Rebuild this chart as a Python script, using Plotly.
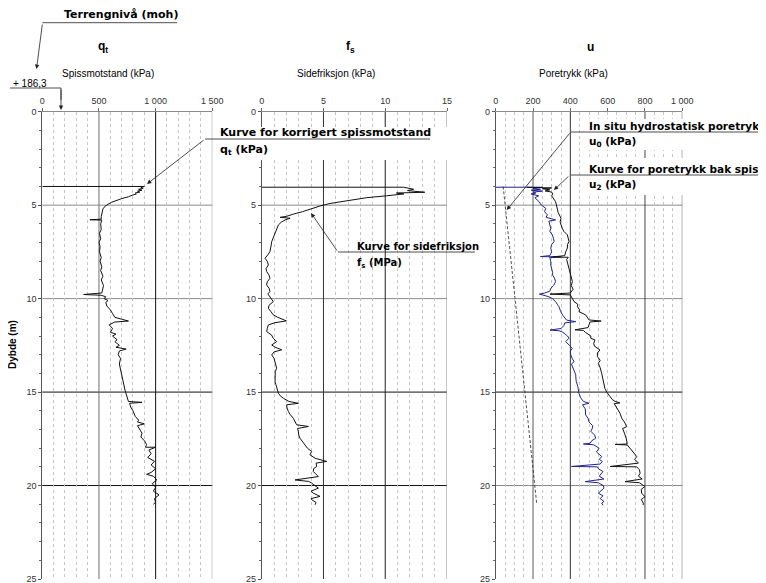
import plotly.graph_objects as go

# The page body adds an 8 px margin, so the figure is sized to fill the rest of the window
OFF = 8
W, H = 766 - OFF, 583 - OFF

# ---------------- data ----------------
# Panel 1: corrected cone resistance q_t (kPa) vs depth (m)
qt_depth = [4.00, 4.00, 4.05, 4.10, 4.15, 4.20, 4.25, 4.30, 4.35, 4.40, 4.45, 4.55, 4.65, 4.75, 4.85,
            4.95, 5.05, 5.20, 5.40, 5.60, 5.75, 5.78, 5.80, 6.00, 6.30, 6.50, 6.80, 7.00, 7.20, 7.50,
            7.80, 8.00, 8.30, 8.50, 8.80, 9.00, 9.30, 9.50, 9.70, 9.78, 9.82, 9.90, 10.00, 10.10, 10.20,
            10.40, 10.60, 10.80, 11.00, 11.10, 11.20, 11.25, 11.40, 11.60, 11.80, 11.90, 12.00, 12.20,
            12.30, 12.50, 12.60, 12.70, 12.80, 13.00, 13.20, 13.50, 13.80, 14.00, 14.30, 14.60, 14.90,
            15.10, 15.30, 15.50, 15.55, 15.60, 15.80, 16.00, 16.30, 16.50, 16.60, 16.70, 16.80, 17.00,
            17.20, 17.40, 17.60, 17.80, 17.95, 17.95, 18.10, 18.30, 18.50, 18.70, 18.90, 19.10, 19.30,
            19.40, 19.50, 19.70, 19.90, 20.10, 20.30, 20.50, 20.70, 20.90, 21.00]
qt_val = [0, 900, 870, 890, 850, 880, 840, 860, 820, 830, 800, 760, 700, 650, 610,
          580, 555, 535, 525, 520, 520, 420, 525, 515, 520, 505, 515, 500, 510, 505,
          520, 510, 525, 515, 535, 520, 540, 530, 525, 365, 520, 560, 545, 580, 560,
          570, 600, 620, 640, 700, 760, 640, 590, 620, 600, 650, 620, 660,
          640, 680, 650, 740, 680, 670, 690, 680, 690, 700, 710, 720, 730,
          740, 750, 760, 880, 770, 780, 800, 820, 850, 840, 900, 840, 860,
          880, 870, 900, 920, 910, 1000, 940, 960, 930, 990, 960, 1000, 960,
          920, 980, 1010, 970, 1000, 980, 1030, 990, 1000, 980]

# Panel 2: sleeve friction f_s (kPa) vs depth (m)
fs_depth = [4.04, 4.04, 4.15, 4.22, 4.31, 4.35, 4.40, 4.45, 4.50, 4.60, 4.73, 4.82, 4.91, 5.05, 5.20,
            5.35, 5.48, 5.60, 5.65, 5.70, 5.79, 5.90, 6.06, 6.30, 6.59, 6.80, 6.95, 7.20, 7.48, 7.65,
            7.84, 8.00, 8.20, 8.40, 8.55, 8.75, 8.91, 9.10, 9.27, 9.45, 9.62, 9.75, 9.89, 10.05, 10.16,
            10.35, 10.52, 10.70, 10.87, 11.00, 11.19, 11.30, 11.41, 11.60, 11.76, 11.95, 12.12, 12.30,
            12.48, 12.60, 12.74, 12.85, 13.01, 13.20, 13.37, 13.55, 13.72, 13.90, 14.08, 14.30, 14.44,
            14.60, 14.79, 15.06, 15.20, 15.33, 15.50, 15.60, 15.68, 15.85, 16.04, 16.20, 16.40, 16.60,
            16.75, 16.84, 16.95, 17.11, 17.30, 17.47, 17.65, 17.82, 18.00, 18.18, 18.35, 18.54, 18.71,
            18.80, 18.98, 19.10, 19.25, 19.40, 19.52, 19.70, 19.78, 19.87, 20.00, 20.14, 20.30, 20.41,
            20.58, 20.70, 20.76, 20.90, 21.03]
fs_val = [0, 11.5, 12.3, 11.8, 13.2, 10.9, 11.5, 10.5, 10.1, 8.5, 7.15, 6.3, 5.53, 4.7, 4.05,
          3.3, 2.56, 2.0, 1.5, 2.3, 1.9, 1.6, 1.35, 1.2, 1.08, 0.95, 0.81, 0.75, 0.67, 0.5,
          0.27, 0.45, 0.54, 0.35, 0.40, 0.60, 0.67, 0.45, 0.40, 0.60, 0.67, 0.50, 0.67, 0.80, 0.94,
          0.60, 0.54, 0.75, 0.94, 1.3, 2.0, 1.0, 0.54, 0.45, 0.40, 0.80, 0.94, 1.21,
          0.81, 1.1, 1.62, 1.0, 0.81, 1.0, 1.08, 1.15, 1.21, 1.1, 1.08, 1.1, 1.08,
          1.15, 1.21, 1.35, 1.5, 1.75, 2.2, 2.97, 2.02, 2.05, 2.16, 2.3, 2.56, 2.7,
          2.83, 3.78, 2.9, 2.97, 3.0, 3.10, 3.3, 3.51, 3.7, 4.05, 3.9, 4.32, 5.26,
          4.4, 4.45, 4.2, 4.18, 4.4, 4.59, 2.70, 3.8, 4.05, 4.3, 4.59, 4.0, 4.18,
          4.72, 4.0, 4.05, 4.4, 4.32]

# Panel 3: in situ hydrostatic pore pressure u0 (kPa)
u0_depth = [4.0, 21.0]
u0_val = [40, 220]

# Panel 3: blue pore pressure curve (kPa)
ub_depth = [4.04, 4.04, 4.10, 4.15, 4.20, 4.25, 4.30, 4.35, 4.40, 4.50, 4.60, 4.81, 5.00, 5.17, 5.35,
            5.52, 5.65, 5.79, 5.85, 6.00, 6.24, 6.40, 6.59, 6.80, 6.95, 7.10, 7.30, 7.50, 7.70, 7.75,
            7.77, 7.80, 8.00, 8.20, 8.40, 8.60, 8.73, 8.90, 9.09, 9.30, 9.45, 9.60, 9.71, 9.76, 9.80,
            9.90, 10.00, 10.16, 10.30, 10.43, 10.60, 10.69, 10.90, 11.05, 11.15, 11.23, 11.30, 11.45,
            11.60, 11.68, 11.72, 11.80, 12.00, 12.12, 12.30, 12.50, 12.66, 12.80, 13.00, 13.20, 13.37,
            13.50, 13.70, 14.08, 14.30, 14.44, 14.70, 15.06, 15.30, 15.50, 15.60, 15.68, 15.90, 16.22,
            16.40, 16.60, 16.80, 16.93, 17.10, 17.30, 17.47, 17.60, 17.74, 17.78, 17.82, 18.00, 18.20,
            18.45, 18.60, 18.71, 18.85, 18.98, 19.00, 19.10, 19.25, 19.34, 19.50, 19.65, 19.79, 19.85,
            20.00, 20.14, 20.30, 20.41, 20.55, 20.70, 20.85, 20.94, 21.05]
ub_val = [0, 250, 200, 240, 190, 250, 200, 215, 190, 230, 210, 232, 245, 268, 262,
          277, 270, 321, 285, 290, 295, 290, 304, 310, 313, 300, 295, 300, 290, 240,
          350, 290, 295, 295, 300, 305, 304, 315, 321, 310, 295, 290, 260, 234, 250,
          285, 304, 321, 330, 339, 345, 348, 360, 375, 380, 429, 370, 365,
          350, 291, 340, 360, 385, 393, 375, 395, 411, 400, 402, 410, 420,
          406, 415, 429, 430, 432, 440, 446, 455, 470, 500, 465, 480, 482,
          495, 500, 520, 518, 510, 530, 536, 515, 506, 470, 525, 554, 540,
          568, 555, 571, 560, 406, 545, 550, 575, 568, 555, 580, 480, 550,
          577, 580, 560, 550, 575, 560, 580, 568, 575]

# Panel 3: pore pressure behind the cone u2 (kPa)
u2_depth = [4.04, 4.04, 4.08, 4.12, 4.18, 4.24, 4.30, 4.40, 4.50, 4.81, 5.00, 5.17, 5.40, 5.70, 5.90,
            6.24, 6.40, 6.59, 6.80, 6.95, 7.10, 7.30, 7.50, 7.70, 7.77, 7.79, 7.90, 8.10, 8.38, 8.60,
            8.90, 9.09, 9.30, 9.50, 9.70, 9.76, 9.80, 9.98, 10.16, 10.30, 10.43, 10.60, 10.69, 10.87,
            11.00, 11.14, 11.20, 11.25, 11.40, 11.55, 11.67, 11.70, 11.80, 12.00, 12.12, 12.21, 12.40,
            12.55, 12.75, 12.90, 13.10, 13.30, 13.46, 13.70, 14.00, 14.30, 14.60, 14.80, 15.00, 15.20,
            15.40, 15.50, 15.58, 15.62, 15.80, 16.13, 16.40, 16.60, 16.85, 16.95, 17.20, 17.50, 17.78,
            17.80, 17.83, 18.00, 18.20, 18.45, 18.60, 18.80, 18.98, 19.00, 19.15, 19.34, 19.50, 19.65,
            19.79, 19.85, 20.05, 20.20, 20.41, 20.60, 20.75, 20.94, 21.05]
u2_val = [166, 255, 300, 250, 290, 265, 300, 305, 300, 321, 325, 330, 335, 350, 345,
          357, 365, 384, 390, 393, 385, 384, 375, 370, 305, 389, 380, 385, 393, 400,
          405, 411, 405, 415, 400, 291, 400, 411, 420, 440, 438, 450, 446, 482,
          490, 500, 565, 505, 500, 495, 425, 470, 480, 510, 509, 532, 525,
          530, 559, 545, 545, 560, 550, 560, 568, 575, 580, 585, 595, 610,
          625, 640, 666, 635, 645, 666, 675, 690, 702, 680, 690, 700, 705,
          640, 705, 720, 735, 756, 745, 765, 614, 755, 770, 774, 765, 785,
          693, 770, 800, 780, 782, 800, 780, 791, 790]

qt_ticks = [0, 500, 1000, 1500]
qt_ticktext = ["0", "500", "1 000", "1 500"]
fs_ticks = [0, 5, 10, 15]
fs_ticktext = ["0", "5", "10", "15"]
u_ticks = [0, 200, 400, 600, 800, 1000]
u_ticktext = ["0", "200", "400", "600", "800", "1 000"]
depth_ticks = [0, 5, 10, 15, 20, 25]

# ---------------- helpers (screen pixel -> paper fraction) ----------------
def xp(p):
    return (p - OFF) / W

def yp(p):
    return 1 - (p - OFF) / H

TICKFONT = dict(family="Liberation Sans, Arial, sans-serif", size=9, color="#333333")
BOLD = "DejaVu Sans, sans-serif"
REG = "Liberation Sans, Arial, sans-serif"

# solid (heavy) vertical grid lines per panel: value -> colour
qt_solid = {500: "#6e6e6e", 1000: "#111111", 1500: "#8a8a8a"}
fs_solid = {5: "#333333", 10: "#222222", 15: "#8a8a8a"}
u_solid = {200: "#5a5a5a", 400: "#333333", 800: "#444444", 1000: "#555555"}

fig = go.Figure()

fig.add_trace(go.Scatter(x=qt_val, y=qt_depth, xaxis="x", yaxis="y", mode="lines",
                         line=dict(color="#111111", width=1)))
fig.add_trace(go.Scatter(x=fs_val, y=fs_depth, xaxis="x2", yaxis="y2", mode="lines",
                         line=dict(color="#111111", width=1)))
fig.add_trace(go.Scatter(x=u0_val, y=u0_depth, xaxis="x3", yaxis="y3", mode="lines",
                         line=dict(color="#222222", width=0.8, dash="3px,2px")))
fig.add_trace(go.Scatter(x=ub_val, y=ub_depth, xaxis="x3", yaxis="y3", mode="lines",
                         line=dict(color="#23238f", width=1)))
fig.add_trace(go.Scatter(x=u2_val, y=u2_depth, xaxis="x3", yaxis="y3", mode="lines",
                         line=dict(color="#111111", width=1)))

ydom = [yp(579), yp(111.7)]

def xax(domain, rng, tickvals, ticktext, minor_step, solid):
    n = int(round(rng[1] / minor_step))
    minor_vals = [i * minor_step for i in range(1, n) if not any(abs(i * minor_step - s) < 1e-9 for s in solid)]
    return dict(domain=domain, range=rng, side="top", tickmode="array", tickvals=tickvals,
                ticktext=ticktext, ticks="outside", ticklen=3, tickcolor="#666666",
                showline=True, linecolor="#8a8a8a", linewidth=1, showgrid=False, zeroline=False,
                tickfont=TICKFONT, fixedrange=True, automargin=False, ticklabeloverflow="allow",
                minor=dict(tickmode="array", tickvals=minor_vals, showgrid=True,
                           gridcolor="#c4c4c4", griddash="dot", gridwidth=1, ticks=""))

def yax(anchor):
    return dict(domain=ydom, range=[25, 0], anchor=anchor, tickmode="array", tickvals=depth_ticks,
                ticks="outside", ticklen=3, tickcolor="#555555", showline=True, linecolor="#555555",
                linewidth=1, showgrid=False, zeroline=False, tickfont=TICKFONT, fixedrange=True,
                automargin=False, ticklabeloverflow="allow",
                minor=dict(tickmode="linear", tick0=0, dtick=1, ticks="outside", ticklen=2,
                           tickcolor="#666666", showgrid=False))

fig.update_layout(
    width=W, height=H, margin=dict(l=0, r=0, t=0, b=0, pad=0, autoexpand=False),
    paper_bgcolor="white", plot_bgcolor="white", showlegend=False,
    xaxis=xax([xp(42.3), xp(212.3)], [0, 1500], qt_ticks, qt_ticktext, 100, qt_solid) | dict(anchor="y"),
    xaxis2=xax([xp(261.7), xp(447)], [0, 15], fs_ticks, fs_ticktext, 1, fs_solid) | dict(anchor="y2"),
    xaxis3=xax([xp(495.7), xp(682.3)], [0, 1000], u_ticks, u_ticktext, 50, u_solid) | dict(anchor="y3"),
    yaxis=yax("x"), yaxis2=yax("x2"), yaxis3=yax("x3"),
)

shapes = []

def vline(xref, yref, x, color):
    shapes.append(dict(type="line", xref=xref, yref=yref, x0=x, x1=x, y0=0, y1=25,
                       line=dict(color=color, width=1), layer="below"))

def hline(xref, yref, y, color):
    shapes.append(dict(type="line", xref=xref + " domain", yref=yref, x0=0, x1=1, y0=y, y1=y,
                       line=dict(color=color, width=1), layer="below"))

for xr, yr, solid in [("x", "y", qt_solid), ("x2", "y2", fs_solid), ("x3", "y3", u_solid)]:
    for v, c in solid.items():
        vline(xr, yr, v, c)
for yv, c in [(5, "#8a8a8a"), (10, "#8a8a8a"), (15, "#111111"), (20, "#111111")]:
    hline("x", "y", yv, c)
    hline("x2", "y2", yv, c)
for yv, c in [(5, "#8a8a8a"), (10, "#8a8a8a"), (15, "#111111"), (20, "#8a8a8a")]:
    hline("x3", "y3", yv, c)

# white masks behind the callout texts
for x0, x1, y0, y1 in [(213, 452, 127, 160), (585, 766, 119, 150), (585, 766, 158, 195)]:
    shapes.append(dict(type="rect", xref="paper", yref="paper", x0=xp(x0), x1=xp(x1),
                       y0=yp(y1), y1=yp(y0), fillcolor="white", line=dict(width=0), layer="above"))

# leader underlines
for x0, x1, yy in [(42.3, 177, 22.7), (10, 61, 88), (205, 430, 139), (338, 475, 252),
                   (571, 766, 132), (571, 766, 175)]:
    shapes.append(dict(type="line", xref="paper", yref="paper", x0=xp(x0), x1=xp(x1),
                       y0=yp(yy), y1=yp(yy), line=dict(color="#222222", width=0.8), layer="above"))
shapes.append(dict(type="line", xref="paper", yref="paper", x0=xp(61), x1=xp(61),
                   y0=yp(88), y1=yp(100), line=dict(color="#222222", width=0.8), layer="above"))

fig.update_layout(shapes=shapes)

ann = []

def text(x, y, s, size=11, family=BOLD, anchor="left", color="#000000"):
    ann.append(dict(xref="paper", yref="paper", x=xp(x), y=yp(y), text=s, showarrow=False,
                    xanchor=anchor, yanchor="middle", font=dict(family=family, size=size, color=color)))

def arrow(xref, yref, x, y, ax, ay):
    ann.append(dict(xref=xref, yref=yref, x=x, y=y, ax=ax, ay=ay, text="", showarrow=True,
                    arrowhead=2, arrowsize=1.1, arrowwidth=0.8, arrowcolor="#222222", standoff=0))

text(62, 15, "<b>Terrengnivå (moh)</b>", size=11)
text(11, 83, "+ 186,3", size=10, family=REG)
text(103, 47, "<b>q<sub>t</sub></b>", size=12, family=REG, anchor="center")
text(108, 74, "Spissmotstand (kPa)", size=10, family=REG, anchor="center")
text(350, 47, "<b>f<sub>s</sub></b>", size=12, family=REG, anchor="center")
text(336, 74, "Sidefriksjon (kPa)", size=10, family=REG, anchor="center")
text(590, 47, "<b>u</b>", size=12, family=REG, anchor="center")
text(573, 74, "Poretrykk (kPa)", size=10, family=REG, anchor="center")

text(218, 133, "<b>Kurve for korrigert spissmotstand</b>")
text(218, 150, "<b>q<sub>t</sub> (kPa)</b>")
text(355, 246, "<b>Kurve for sidefriksjon</b>", size=10)
text(355, 263, "<b>f<sub>s</sub> (MPa)</b>", size=10)
text(587, 126, "<b>In situ hydrostatisk poretrykk</b>", size=10.5)
text(587, 142, "<b>u<sub>0</sub> (kPa)</b>", size=10.5)
text(587, 169, "<b>Kurve for poretrykk bak spiss</b>", size=10.5)
text(587, 185, "<b>u<sub>2</sub> (kPa)</b>", size=10.5)

ann.append(dict(xref="paper", yref="paper", x=xp(12), y=yp(345), text="<b>Dybde (m)</b>",
                showarrow=False, textangle=-90, xanchor="center", yanchor="middle",
                font=dict(family=REG, size=10, color="#000000")))

arrow("paper", "paper", xp(36.5), yp(69), 6, -46)
arrow("paper", "paper", xp(61), yp(110), 0, -22)
arrow("x", "y", 924, 3.87, 58, -45)
arrow("x2", "y2", 3.99, 5.42, 27, 39)
arrow("x3", "y3", 59, 5.26, 64, -78)
arrow("x3", "y3", 312, 4.19, 16, -15)

fig.update_layout(annotations=ann)

fig.write_html("out.html")
